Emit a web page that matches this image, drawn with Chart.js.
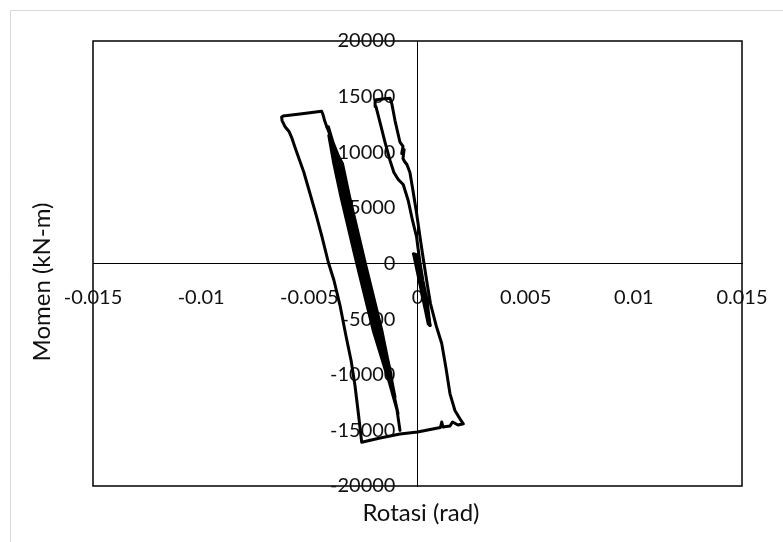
<!DOCTYPE html>
<html>
<head>
<meta charset="utf-8">
<script src="https://cdn.jsdelivr.net/npm/chart.js@4.4.1/dist/chart.umd.min.js"></script>
<style>
html,body{margin:0;padding:0;background:#fff;}
#wrap{position:relative;width:783px;height:542px;}
canvas{display:block;}
</style>
</head>
<body>
<div id="wrap"><canvas id="c" width="783" height="542"></canvas></div>
<script>
// ---- tick labels ----
const xTickLabels = ['-0.015', '-0.01', '-0.005', '0', '0.005', '0.01', '0.015'];
const yTickLabels = ['-20000', '-15000', '-10000', '-5000', '0', '5000', '10000', '15000', '20000'];
const xTitle = 'Rotasi (rad)';
const yTitle = 'Momen (kN-m)';

// ---- series: initial small cycles near the origin ----
const stubRot = [0, -0.00019, -0.00007, 0.00058, 0.00050, -0.00017, -0.00010, 0.00055, 0.00047, -0.00015, -0.00008, 0.00058];
const stubMom = [0, 870, 810, -5570, -5450, 750, 700, -5300, -5150, 620, 560, -5570];

// ---- series: large cycle (right loop + outer loop) ----
const loopRot = [
  0.00058, 0.00044, 0.00025, 0.00012, 0.00002, -0.00004, -0.00023, -0.00043, -0.00066, -0.00089,
  -0.00109, -0.00127, -0.00150, -0.00173, -0.00192, -0.00196, -0.00164, -0.00127, -0.00118, -0.00104,
  -0.00081, -0.00067, -0.00073, -0.00062, -0.00067, -0.00060, -0.00049, -0.00035, -0.00021, -0.00004,
  0.00014, 0.00030, 0.00046, 0.00060, 0.00086, 0.00112, 0.00132, 0.00150, 0.00173, 0.00201,
  0.00212, 0.00187, 0.00162, 0.00150, 0.00118, 0.00112, 0.00106, 0, -0.00081, -0.00173,
  -0.00258, -0.00275, -0.00289, -0.00307, -0.00331, -0.00358, -0.00386, -0.00412, -0.00442, -0.00469,
  -0.00497, -0.00525, -0.00548, -0.00566, -0.00580, -0.00594, -0.00613, -0.00626, -0.00628, -0.00622,
  -0.00543, -0.00443, -0.00437, -0.00428, -0.00418
];
const loopMom = [
  -5570, -3330, -1530, 0, 1440, 2360, 3870, 5660, 7100, 7550,
  8180, 9260, 10880, 12670, 14110, 14700, 14790, 14860, 14290, 12850,
  10900, 10520, 9890, 10250, 9440, 9170, 8900, 8180, 6560, 4490,
  2070, 0, -1980, -3600, -5570, -7190, -9440, -11690, -13210, -14110,
  -14410, -14520, -14250, -14610, -14700, -14250, -14740, -15150, -15330, -15690,
  -16060, -13210, -10970, -8720, -6470, -3780, -1530, 90, 2430, 4400,
  6290, 8180, 9440, 10430, 11240, 11870, 12320, 12850, 13150, 13260,
  13440, 13690, 13390, 12760, 12230
];

// ---- series: repeated cycles forming the dense band ----
const bandRot = [
  -0.00418, -0.00352, -0.00319, -0.00246, -0.00170, -0.00133,
  -0.00200, -0.00276, -0.00349, -0.00382, -0.00404,
  -0.00347, -0.00314, -0.00241, -0.00165, -0.00118,
  -0.00195, -0.00271, -0.00344, -0.00377, -0.00410,
  -0.00357, -0.00324, -0.00251, -0.00175, -0.00124, -0.00104,
  -0.00142, -0.00205, -0.00281, -0.00354, -0.00387, -0.00410,
  -0.00349, -0.00316, -0.00243, -0.00167, -0.00122,
  -0.00197, -0.00273, -0.00346, -0.00379, -0.00412,
  -0.00362, -0.00329, -0.00256, -0.00180, -0.00129, -0.00090,
  -0.00140, -0.00193, -0.00269, -0.00342, -0.00392,
  -0.00364, -0.00331, -0.00258, -0.00182, -0.00131, -0.00096, -0.00081
];
const bandMom = [
  12230, 9000, 6000, 0, -6000, -9000,
  -6000, 0, 6000, 9000, 11000,
  9000, 6000, 0, -6000, -10500,
  -6000, 0, 6000, 9000, 12000,
  9000, 6000, 0, -6000, -10000, -12000,
  -10000, -6000, 0, 6000, 9000, 11500,
  9000, 6000, 0, -6000, -10000,
  -6000, 0, 6000, 9000, 12300,
  9000, 6000, 0, -6000, -10000, -13500,
  -10000, -6000, 0, 6000, 10500,
  9000, 6000, 0, -6000, -10000, -13000, -15000
];

function pts(xs, ys) { return xs.map((x, i) => ({x: x, y: ys[i]})); }

const LINE = {
  showLine: true, borderColor: '#000', backgroundColor: '#000', borderWidth: 3,
  pointRadius: 0, pointHoverRadius: 0, tension: 0,
  borderJoinStyle: 'round', borderCapStyle: 'round', fill: false
};

const TICK_FONT = {family: 'Lato', size: 20};
const TICK_COLOR = '#111';

const framePlugin = {
  id: 'frame',
  beforeDraw(chart) {
    const ctx = chart.ctx, a = chart.chartArea;
    ctx.save();
    ctx.fillStyle = '#fff';
    ctx.fillRect(0, 0, chart.width, chart.height);
    ctx.strokeStyle = '#d9d9d9';
    ctx.lineWidth = 1;
    ctx.beginPath();
    ctx.moveTo(10.5, chart.height);
    ctx.lineTo(10.5, 10.5);
    ctx.lineTo(chart.width, 10.5);
    ctx.stroke();
    ctx.strokeStyle = '#000';
    ctx.lineWidth = 1.5;
    ctx.strokeRect(a.left, a.top, a.right - a.left, a.bottom - a.top);
    // axis titles
    ctx.fillStyle = '#111';
    ctx.font = '24px Lato';
    ctx.textAlign = 'center';
    ctx.textBaseline = 'middle';
    ctx.fillText(xTitle, 421, 513);
    ctx.translate(42, 282);
    ctx.rotate(-Math.PI / 2);
    ctx.fillText(yTitle, 0, 0);
    ctx.restore();
  }
};

function noPad(s) { s.paddingLeft = 0; s.paddingRight = 0; s.paddingTop = 0; s.paddingBottom = 0; }

new Chart(document.getElementById('c'), {
  type: 'scatter',
  data: {
    datasets: [
      Object.assign({label: 'awal', data: pts(stubRot, stubMom)}, LINE),
      Object.assign({label: 'siklus besar', data: pts(loopRot, loopMom)}, LINE),
      Object.assign({label: 'siklus berulang', data: pts(bandRot, bandMom)}, LINE)
    ]
  },
  options: {
    responsive: false,
    animation: false,
    devicePixelRatio: 1,
    layout: {padding: {left: 93, right: 41, top: 41, bottom: 56}},
    plugins: {legend: {display: false}, tooltip: {enabled: false}},
    scales: {
      x: {
        type: 'linear', axis: 'x', position: {y: 0},
        min: -0.015, max: 0.015,
        afterFit: noPad,
        grid: {display: false, drawTicks: false, tickLength: 0},
        border: {display: true, color: '#000', width: 1},
        ticks: {stepSize: 0.005, padding: 22, color: TICK_COLOR, font: TICK_FONT,
                autoSkip: false, maxRotation: 0, callback: (v, i) => xTickLabels[i]}
      },
      y: {
        type: 'linear', axis: 'y', position: {x: 0},
        min: -20000, max: 20000,
        afterFit: noPad,
        grid: {display: false, drawTicks: false, tickLength: 0},
        border: {display: true, color: '#000', width: 1},
        ticks: {stepSize: 5000, display: false}
      },
      yLabels: {
        type: 'linear', axis: 'y', position: {x: -0.00102},
        min: -20000, max: 20000,
        afterFit: noPad,
        grid: {display: false, drawTicks: false, tickLength: 0},
        border: {display: false},
        ticks: {stepSize: 5000, color: TICK_COLOR, font: TICK_FONT,
                autoSkip: false, callback: (v, i) => yTickLabels[i]}
      }
    }
  },
  plugins: [framePlugin]
});
</script>
</body>
</html>
